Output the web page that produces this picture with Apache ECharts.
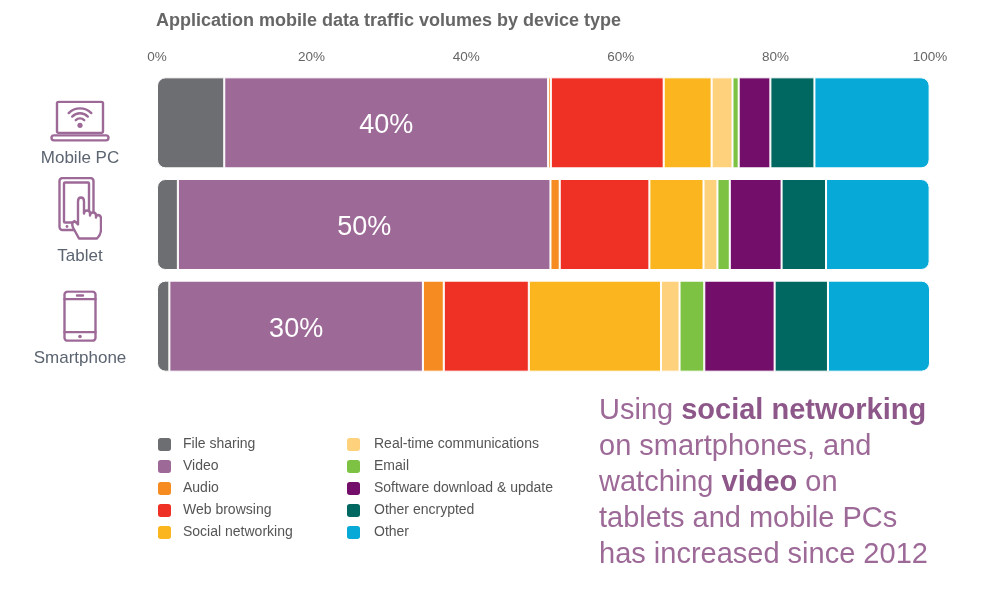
<!DOCTYPE html>
<html>
<head>
<meta charset="utf-8">
<script src="https://cdn.jsdelivr.net/npm/echarts@6/dist/echarts.min.js"></script>
<style>
html, body { margin: 0; padding: 0; background: #fff; }
#main { width: 999px; height: 591px; }
</style>
</head>
<body>
<div id="main"></div>
<script>
// 数据
var devices = ['Mobile PC', 'Tablet', 'Smartphone'];
var appNames = ['File sharing', 'Video', 'Audio', 'Web browsing', 'Social networking',
	'Real-time communications', 'Email', 'Software download & update', 'Other encrypted', 'Other'];
var fileSharing = [8.7, 2.7, 1.6];
var video = [41.9, 48.2, 32.8];
var audio = [0.35, 1.2, 2.7];
var webBrowsing = [14.6, 11.6, 11.0];
var socialNetworking = [6.2, 7.0, 17.1];
var realTime = [2.7, 1.8, 2.4];
var email = [0.8, 1.6, 3.2];
var software = [4.1, 6.7, 9.1];
var otherEncrypted = [5.7, 5.75, 6.9];
var other = [14.9, 13.4, 13.2];
var videoLabels = ['40%', '50%', '30%'];
var xTicks = [0, 20, 40, 60, 80, 100];

var colors = ['#6d6e71', '#9d6a98', '#f58b21', '#ee3124', '#fbb61f',
	'#fed27c', '#7dc242', '#730e6a', '#006860', '#07a9d6'];
var allValues = [fileSharing, video, audio, webBrowsing, socialNetworking,
	realTime, email, software, otherEncrypted, other];

var iconColor = '#9d6a98';
function svgUrl(w, h, body) {
	var s = '<svg xmlns="http://www.w3.org/2000/svg" width="' + w + '" height="' + h +
		'" viewBox="0 0 ' + w + ' ' + h + '" fill="none" stroke="' + iconColor +
		'" stroke-width="2.4" stroke-linecap="round" stroke-linejoin="round">' + body + '</svg>';
	return 'data:image/svg+xml;charset=utf-8,' + encodeURIComponent(s);
}
var laptopIcon = svgUrl(60, 42,
	'<rect x="7" y="1.5" width="46" height="31" rx="1.5"/>' +
	'<rect x="1.5" y="35" width="57" height="5" rx="2.5"/>' +
	'<path d="M25.8 19.8 A6 6 0 0 1 34.2 19.8"/>' +
	'<path d="M22.2 16.2 A11 11 0 0 1 37.8 16.2"/>' +
	'<path d="M18.7 12.7 A16 16 0 0 1 41.3 12.7"/>' +
	'<circle cx="30" cy="25" r="2.6" fill="' + iconColor + '" stroke="none"/>');
var tabletIcon = svgUrl(44, 64,
	'<rect x="1.5" y="1.5" width="34" height="52" rx="3"/>' +
	'<rect x="6" y="6" width="25" height="40" rx="1"/>' +
	'<circle cx="9" cy="50" r="1.4" fill="' + iconColor + '" stroke="none"/>' +
	'<path fill="#fff" d="M21 62 L15 51 Q13 46 16.5 44.5 L20 48 L20 25 Q20 21 23 21 Q26 21 26 25 L26 37 Q26 34 29 34 Q32 34 32 37 L32 39 Q32 36 35 36 Q38 36 38 39 L38 41 Q38 38.5 40.5 38.5 Q43 39 43 42 L43 53 Q43 58 39 62 Z"/>');
var phoneIcon = svgUrl(34, 52,
	'<rect x="1.5" y="1.5" width="31" height="49" rx="3"/>' +
	'<path d="M1.5 9 L32.5 9 M1.5 42 L32.5 42 M14 5.3 L20 5.3"/>' +
	'<circle cx="17" cy="46.3" r="1.8" fill="' + iconColor + '" stroke="none"/>');

var fontName = '"Liberation Sans", Arial, sans-serif';

var series = [];
for (var i = 0; i < appNames.length; i++) {
	var s = {
		name: appNames[i],
		type: 'bar',
		stack: 'total',
		barWidth: 91,
		data: allValues[i],
		itemStyle: {
			color: colors[i],
			borderColor: '#fff',
			borderWidth: 1,
			borderRadius: i === 0 ? [8, 0, 0, 8] : (i === appNames.length - 1 ? [0, 8, 8, 0] : 0)
		},
		emphasis: { disabled: true }
	};
	if (i === 1) {
		s.label = {
			show: true,
			position: 'inside',
			color: '#fff',
			fontSize: 27,
			fontFamily: fontName,
			offset: [0, 3],
			formatter: function (p) { return videoLabels[p.dataIndex]; }
		};
	}
	series.push(s);
}

var legendBase = {
	orient: 'vertical',
	top: 436,
	padding: 0,
	icon: 'roundRect',
	itemWidth: 15,
	itemHeight: 15,
	itemGap: 5,
	selectedMode: false
};

var dom = document.getElementById('main');
var myChart = echarts.init(dom);
var option = {
	animation: false,
	color: colors,
	title: [
		{
			text: 'Application mobile data traffic volumes by device type',
			left: 151,
			top: 7,
			textStyle: { color: '#666', fontSize: 18, fontWeight: 'bold', fontFamily: fontName }
		},
		{
			text: '{n|Using }{b|social networking}\n{n|on smartphones, and}\n{n|watching }{b|video}{n| on}\n{n|tablets and mobile PCs}\n{n|has increased since 2012}',
			left: 594,
			top: 388,
			textStyle: {
				fontWeight: 'normal',
				rich: {
					n: { color: '#9d6a98', fontSize: 29, lineHeight: 36, fontWeight: 'normal', fontFamily: fontName },
					b: { color: '#8d5889', fontSize: 29, lineHeight: 36, fontWeight: 'bold', fontFamily: fontName }
				}
			}
		}
	],
	legend: [
		echarts.util.extend({
			data: appNames.slice(0, 5),
			left: 156,
			textStyle: { color: '#555', fontSize: 14, lineHeight: 15, fontFamily: fontName, padding: [0, 0, 0, 6] }
		}, legendBase),
		echarts.util.extend({
			data: appNames.slice(5),
			left: 345,
			textStyle: { color: '#555', fontSize: 14, lineHeight: 15, fontFamily: fontName, padding: [0, 0, 0, 8] }
		}, legendBase)
	],
	grid: { left: 157, right: 69, top: 72, bottom: 214, containLabel: false },
	xAxis: {
		type: 'value',
		position: 'top',
		min: xTicks[0],
		max: xTicks[xTicks.length - 1],
		interval: 20,
		axisLine: { show: false },
		axisTick: { show: false },
		splitLine: { show: false },
		axisLabel: {
			formatter: '{value}%',
			color: '#666',
			fontSize: 13.5,
			margin: 8,
			fontFamily: fontName
		}
	},
	yAxis: {
		type: 'category',
		inverse: true,
		data: devices,
		axisLine: { show: false },
		axisTick: { show: false },
		axisLabel: {
			align: 'center',
			margin: 77,
			formatter: function (v, i) {
				if (i === 0) return '{s0|}\n{i0|}\n{t|' + v + '}';
				if (i === 1) return '{i1|}\n{t|' + v + '}';
				return '{s2|}\n{i2|}\n{t|' + v + '}';
			},
			rich: {
				s0: { height: 29, lineHeight: 29, width: 1 },
				s2: { height: 12, lineHeight: 12, width: 1 },
				i0: { width: 60, height: 42, backgroundColor: { image: laptopIcon } },
				i1: { width: 44, height: 64, backgroundColor: { image: tabletIcon } },
				i2: { width: 34, height: 52, backgroundColor: { image: phoneIcon } },
				t: { color: '#5b6470', fontSize: 17, lineHeight: 32, fontFamily: fontName }
			}
		}
	},
	series: series
};
if (option && typeof option === "object") {
	myChart.setOption(option, true);
}
</script>
</body>
</html>
